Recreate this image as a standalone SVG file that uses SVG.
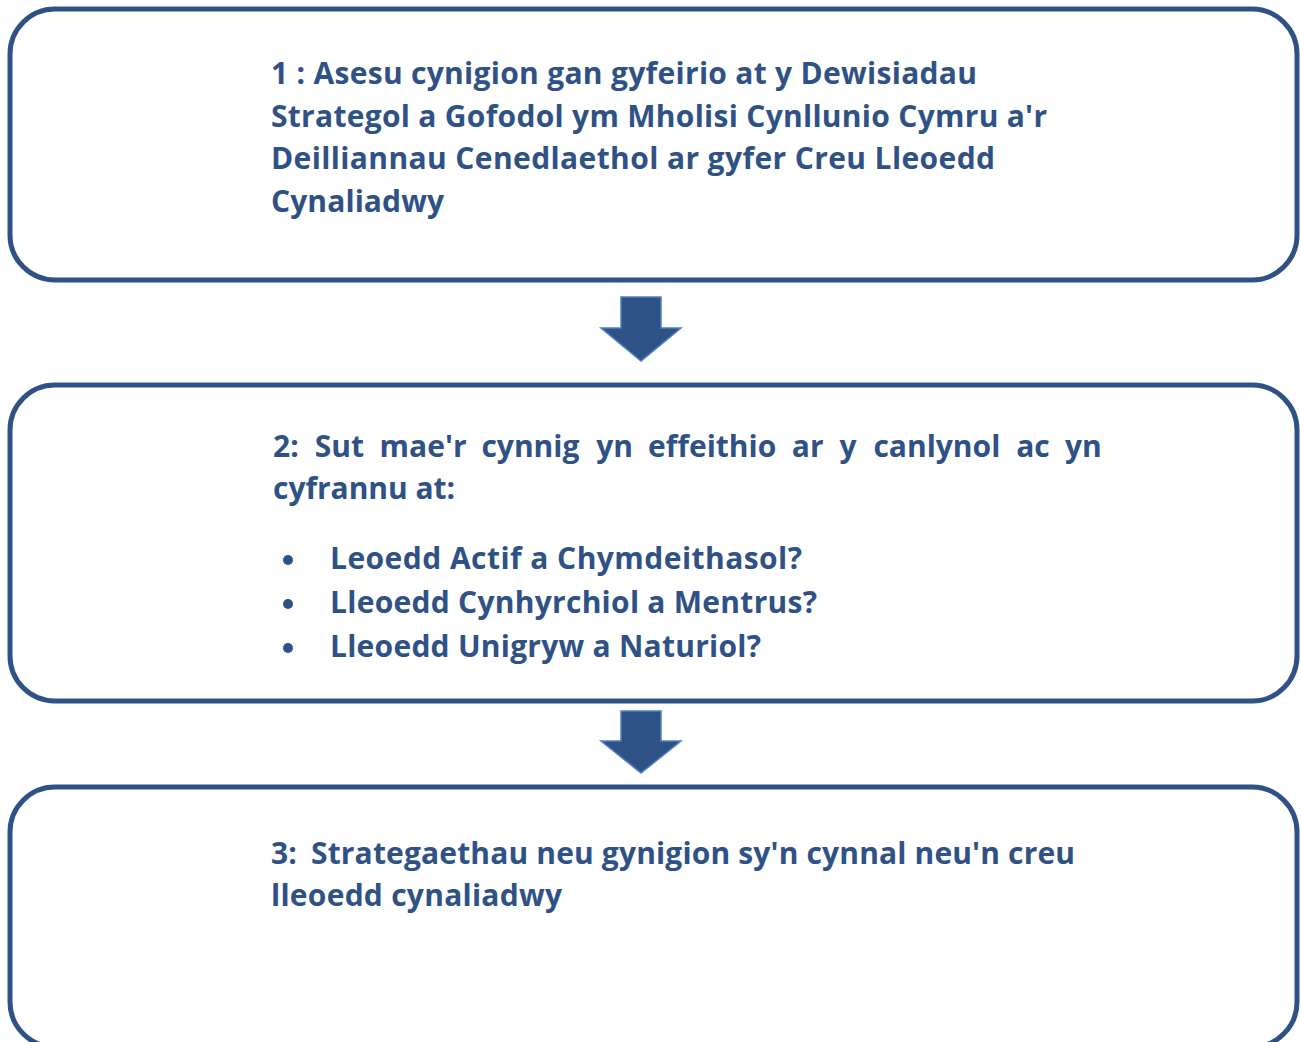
<svg xmlns="http://www.w3.org/2000/svg" width="1301" height="1042" viewBox="0 0 1301 1042">
<style>
.box{fill:#fff;stroke:#2f5286;stroke-width:5}
.t{font-family:"Open Sans","Noto Sans",sans-serif;font-weight:bold;font-size:30px;fill:#2f5286}
.arr{fill:#2f5286;stroke:#4f81bd;stroke-width:1.5}
.dot{fill:#2f5286}
</style>
<rect width="1301" height="1042" fill="#fff"/>
<g id="node1">
<rect class="box" x="10" y="9" width="1287" height="271" rx="45"/>
<text class="t" x="271" y="84" textLength="706" lengthAdjust="spacing">1 : Asesu cynigion gan gyfeirio at y Dewisiadau</text>
<text class="t" x="271" y="127" textLength="776" lengthAdjust="spacing">Strategol a Gofodol ym Mholisi Cynllunio Cymru a'r</text>
<text class="t" x="271" y="169" textLength="724" lengthAdjust="spacing">Deilliannau Cenedlaethol ar gyfer Creu Lleoedd</text>
<text class="t" x="271" y="212" textLength="173" lengthAdjust="spacing">Cynaliadwy</text>
</g>
<g id="node2">
<rect class="box" x="10" y="385" width="1287" height="316" rx="45"/>
<text class="t"><tspan x="273" y="457">2:</tspan><tspan x="314.8" y="457">Sut</tspan><tspan x="379.6" y="457">mae'r</tspan><tspan x="481.4" y="457">cynnig</tspan><tspan x="596.2" y="457">yn</tspan><tspan x="648" y="457">effeithio</tspan><tspan x="791.8" y="457">ar</tspan><tspan x="839.6" y="457">y</tspan><tspan x="873.4" y="457">canlynol</tspan><tspan x="1016.2" y="457">ac</tspan><tspan x="1065" y="457">yn</tspan></text>
<text class="t" x="273" y="499" textLength="182" lengthAdjust="spacing">cyfrannu at:</text>
<circle class="dot" cx="288" cy="560" r="5"/>
<circle class="dot" cx="288" cy="604" r="5"/>
<circle class="dot" cx="288" cy="648" r="5"/>
<text class="t" x="330" y="569" textLength="472" lengthAdjust="spacing">Leoedd Actif a Chymdeithasol?</text>
<text class="t" x="330" y="613" textLength="487" lengthAdjust="spacing">Lleoedd Cynhyrchiol a Mentrus?</text>
<text class="t" x="330" y="657" textLength="431" lengthAdjust="spacing">Lleoedd Unigryw a Naturiol?</text>
</g>
<g id="node3">
<rect class="box" x="10" y="787" width="1287" height="260" rx="45"/>
<text class="t" x="271" y="864">3:</text>
<text class="t" x="311" y="864" textLength="764" lengthAdjust="spacing">Strategaethau neu gynigion sy'n cynnal neu'n creu</text>
<text class="t" x="271" y="906" textLength="291" lengthAdjust="spacing">lleoedd cynaliadwy</text>
</g>
<g id="connectors">
<path class="arr" d="M621,297 H661 V328 H681 L641,361 L601,328 H621 Z"/>
<path class="arr" d="M621,711 H661 V741 H681 L641,773 L601,741 H621 Z"/>
</g>
</svg>
